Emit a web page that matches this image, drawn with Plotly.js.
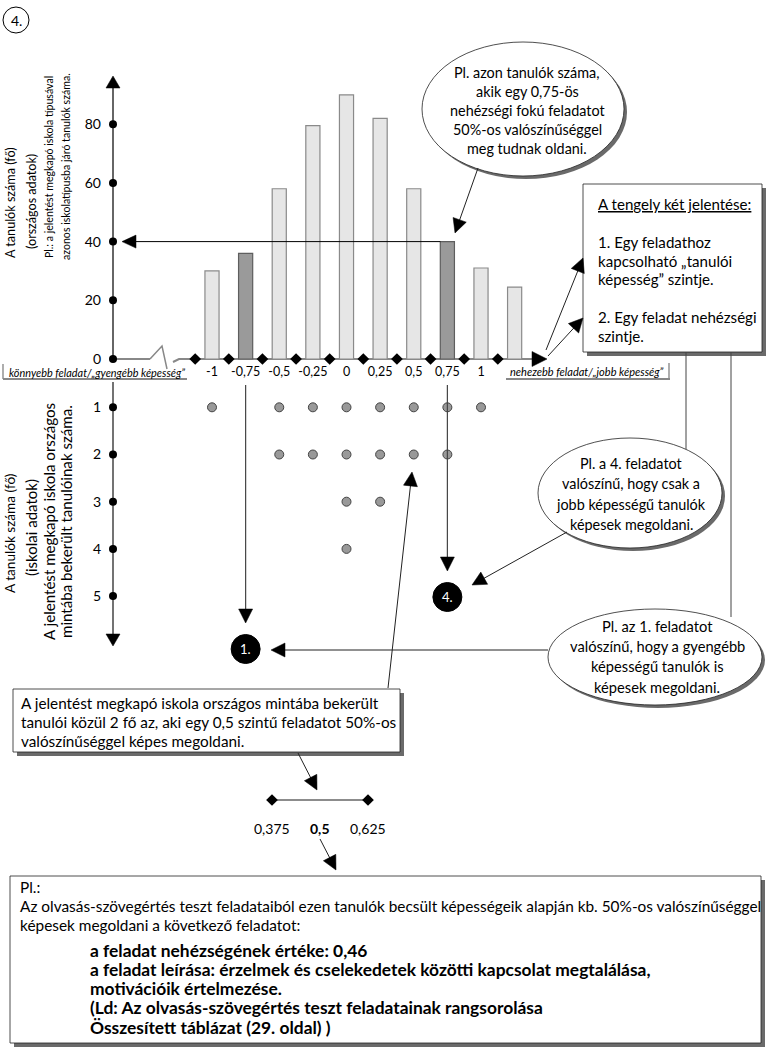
<!DOCTYPE html>
<html><head><meta charset="utf-8">
<script src="https://cdn.plot.ly/plotly-3.0.1.min.js"></script>
<style>html,body{margin:0;padding:0;background:#fff;}#chart{width:767px;height:1053px;}</style>
</head><body><div id="chart"></div>
<script>
// ---------------- data ----------------
const difficulty = [-1, -0.75, -0.5, -0.25, 0, 0.25, 0.5, 0.75, 1, 1.25];
const nationalCounts = [30, 36, 58, 79.5, 90, 82, 58, 40, 31, 24.5];
const highlighted = [false, true, false, false, false, false, false, true, false, false];
const schoolCounts = [1, 0, 2, 2, 4, 3, 2, 2, 1, 0];
const xTickVals = [-1, -0.75, -0.5, -0.25, 0, 0.25, 0.5, 0.75, 1];
const xTickText = ['-1', '-0,75', '-0,5', '-0,25', '0', '0,25', '0,5', '0,75', '1'];
const yTickVals = [0, 20, 40, 60, 80];
const schoolTickVals = [1, 2, 3, 4, 5];
const binEdges = [-1.125, -0.875, -0.625, -0.375, -0.125, 0.125, 0.375, 0.625, 0.875, 1.125];
const bracketVals = [0.375, 0.625];
const bracketLabelVals = [0.375, 0.5, 0.625];
const bracketLabels = ['0,375', '<b>0,5</b>', '0,625'];
const exampleNational = 0.75, exampleNationalCount = 40;
const exampleTasks = [{d: -0.75, label: '1.'}, {d: 0.75, label: '4.'}];

// ---------------- geometry (layout only) ----------------
const W = 767, H = 1053;
const X0PX = 346.5, XPXU = 134.5;
const Y0PX = 359, YPXU = 2.935;
const R1PX = 407.3, RPX = 47.2;
const AXIS_PX = 113;
const xPx = v => X0PX + XPXU * v;
const yPx = v => Y0PX - YPXU * v;
const FONT = 'Lato, "Open Sans", sans-serif';

// font size fitted so that a given text reaches a target width
const cv = document.createElement('canvas').getContext('2d');
function fit(text, targetW, style) {
  cv.font = (style ? style + ' ' : '') + '20px ' + FONT;
  const w = cv.measureText(text.replace(/<[^>]+>/g, '')).width;
  return Math.round(20 * targetW / w * 10) / 10;
}

const shapes = [];
const ann = [];
function line(x0, y0, x1, y1, color, w, layer) {
  shapes.push({type: 'line', xref: 'x3', yref: 'y3', x0, y0, x1, y1, layer: layer || 'above',
    line: {color: color || '#000', width: w || 1}});
}
function path(d, color, w, fill, layer) {
  shapes.push({type: 'path', xref: 'x3', yref: 'y3', path: d, layer: layer || 'above',
    line: {color: color || '#000', width: w === undefined ? 1 : w}, fillcolor: fill || 'rgba(0,0,0,0)'});
}
function tri(tx, ty, fx, fy, len, half) {
  len = len || 13; half = half || 6.5;
  const dx = tx - fx, dy = ty - fy, L = Math.hypot(dx, dy);
  const ux = dx / L, uy = dy / L, bx = tx - ux * len, by = ty - uy * len, px = -uy, py = ux;
  path(`M${tx},${ty} L${bx + px * half},${by + py * half} L${bx - px * half},${by - py * half} Z`, '#000', 0.5, '#000');
}
function arrow(x0, y0, x1, y1, color, w, len, half) {
  len = len || 13;
  const dx = x1 - x0, dy = y1 - y0, L = Math.hypot(dx, dy);
  line(x0, y0, x1 - dx / L * (len - 2), y1 - dy / L * (len - 2), color || '#222', w || 1);
  tri(x1, y1, x0, y0, len, half);
}
function ellipse(cx, cy, rx, ry) {
  shapes.push({type: 'circle', xref: 'x3', yref: 'y3', x0: cx - rx + 3, x1: cx + rx + 3, y0: cy - ry + 3, y1: cy + ry + 3,
    line: {width: 0}, fillcolor: '#6a6a6a'});
  shapes.push({type: 'circle', xref: 'x3', yref: 'y3', x0: cx - rx, x1: cx + rx, y0: cy - ry, y1: cy + ry,
    line: {color: '#222', width: 0.8}, fillcolor: '#fff'});
}
function box(x0, y0, x1, y1) {
  shapes.push({type: 'rect', xref: 'x3', yref: 'y3', x0: x0 + 4, x1: x1 + 4, y0: y0 + 4, y1: y1 + 4,
    line: {width: 0}, fillcolor: '#6a6a6a'});
  shapes.push({type: 'rect', xref: 'x3', yref: 'y3', x0, x1, y0, y1, line: {color: '#222', width: 0.8}, fillcolor: '#fff'});
}
function circ(cx, cy, r, fill, lineColor) {
  shapes.push({type: 'circle', xref: 'x3', yref: 'y3', x0: cx - r, x1: cx + r, y0: cy - r, y1: cy + r,
    line: {color: lineColor || '#000', width: 1}, fillcolor: fill});
}
function txt(x, y, s, o) {
  o = o || {};
  ann.push({xref: 'x3', yref: 'y3', x, y, text: s, showarrow: false,
    xanchor: o.xa || 'center', yanchor: 'middle', textangle: o.angle || 0,
    font: {family: FONT, size: o.size || 13, color: o.color || '#000'}});
}

// ---- page number ----
circ(16, 20, 13, '#fff', '#000');
txt(16, 20, '4.', {size: 14});

// ---- upper axis ----
line(AXIS_PX, yPx(0), AXIS_PX, 86, '#333', 1.5, 'below');
tri(AXIS_PX, 76, AXIS_PX, 100, 12, 7);
line(AXIS_PX, yPx(0), 150, yPx(0), '#888', 2, 'below');
path(`M150,${yPx(0)} L162,346 L167,369`, '#888', 1.5, null, 'below');
path(`M173,362 L179,${yPx(0)} L533,${yPx(0)}`, '#888', 2, null, 'below');
tri(547, yPx(0), 520, yPx(0), 15, 7.5);

// axis end-labels
const easyLbl = '<i>könnyebb feladat/„gyengébb képesség”</i>';
const hardLbl = '<i>nehezebb feladat/„jobb képesség”</i>';
txt(7, 372, easyLbl, {xa: 'left', size: fit(easyLbl, 176, 'italic')});
line(3, 364, 3, 379, '#777', 1.2);
line(3, 379, 187, 379, '#888', 2);
txt(666, 371, hardLbl, {xa: 'right', size: fit(hardLbl, 154, 'italic')});
line(669, 363, 669, 379, '#777', 1.2);
line(506, 379, 670, 379, '#888', 2);

// ---- lower axis ----
line(AXIS_PX, 382, AXIS_PX, 634, '#444', 1.5, 'below');
tri(AXIS_PX, 646, AXIS_PX, 600, 12, 7);

// ---- rotated axis titles ----
const uA = fit('A tanulók száma (fő)', 111), uB = fit('Pl.: a jelentést megkapó iskola típusával', 182);
txt(10, 203, 'A tanulók száma (fő)', {angle: -90, size: uA});
txt(31, 202, '(országos adatok)', {angle: -90, size: uA});
txt(49, 167, 'Pl.: a jelentést megkapó iskola típusával', {angle: -90, size: uB});
txt(66, 167, 'azonos iskolatípusba járó tanulók száma.', {angle: -90, size: uB});
const lA = fit('A tanulók száma (fő)', 120), lB = fit('A jelentést megkapó iskola országos', 238);
txt(10, 533, 'A tanulók száma (fő)', {angle: -90, size: lA});
txt(31, 528, '(iskolai adatok)', {angle: -90, size: fit('(iskolai adatok)', 97)});
txt(49, 522, 'A jelentést megkapó iskola országos', {angle: -90, size: lB});
txt(66, 522, 'mintába bekerült tanulóinak száma.', {angle: -90, size: lB});

// ---- 40 arrow to axis ----
arrow(xPx(exampleNational) - 7, yPx(exampleNationalCount), 122, yPx(exampleNationalCount), '#000', 1, 14, 6.5);

// ---- example task markers ----
exampleTasks.forEach((t, i) => {
  const x = xPx(t.d);
  const tipY = i === 0 ? 623 : 571;
  const cy = i === 0 ? 649 : 597;
  arrow(x, 385, x, tipY, '#444', 1.2, 14, 7);
  circ(x, cy, 14.5, '#000', '#000');
  txt(x, cy, t.label, {size: 13, color: '#fff'});
});

// ---- top ellipse ----
ellipse(523, 109, 101, 67);
const topLines = ['Pl. azon tanulók száma,', 'akik egy 0,75-ös', 'nehézségi fokú feladatot', '50%-os valószínűséggel', 'meg tudnak oldani.'];
const topSize = fit(topLines[0], 146);
topLines.forEach((s, i) => txt(527, 72 + i * 19, s, {size: topSize}));
arrow(478, 168, 455, 233, '#222', 1, 14, 7);

// ---- axis meaning box ----
box(583, 184, 762, 352);
const axSize = fit('2. Egy feladat nehézségi', 159);
txt(596, 204, '<u>A tengely két jelentése:</u>', {xa: 'left', size: axSize});
txt(596, 242, '1. Egy feladathoz', {xa: 'left', size: axSize});
txt(596, 261, 'kapcsolható „tanulói', {xa: 'left', size: axSize});
txt(596, 279, 'képesség” szintje.', {xa: 'left', size: axSize});
txt(596, 317, '2. Egy feladat nehézségi', {xa: 'left', size: axSize});
txt(596, 336, 'szintje.', {xa: 'left', size: axSize});
arrow(546, 350, 583, 258, '#222', 1, 14, 7);
arrow(548, 356, 583, 318, '#222', 1, 14, 7);
line(686, 352, 686, 449, '#444', 1);
line(731, 352, 731, 617, '#444', 1);

// ---- ellipse "Pl. a 4." ----
ellipse(630, 493, 92, 55);
const e4Lines = ['Pl. a 4. feladatot', 'valószínű, hogy csak a', 'jobb képességű tanulók', 'képesek megoldani.'];
const e4Size = fit(e4Lines[2], 148);
e4Lines.forEach((s, i) => txt(631, 463 + i * 20.5, s, {size: e4Size}));
arrow(567, 532, 472, 585, '#222', 1, 14, 7);

// ---- ellipse "Pl. az 1." ----
ellipse(655, 657, 107, 48);
const e1Lines = ['Pl. az 1. feladatot', 'valószínű, hogy a gyengébb', 'képességű tanulók is', 'képesek megoldani.'];
const e1Size = fit(e1Lines[1], 176);
e1Lines.forEach((s, i) => txt(657, 626 + i * 20.2, s, {size: e1Size}));
arrow(548, 650, 271, 650, '#222', 1, 14, 7);

// ---- school box ----
box(13, 689, 400, 752);
const schLines = ['A jelentést megkapó iskola országos mintába bekerült', 'tanulói közül 2 fő az, aki egy 0,5 szintű feladatot 50%-os', 'valószínűséggel képes megoldani.'];
const schSize = fit(schLines[1], 376);
schLines.forEach((s, i) => txt(19, 703 + i * 19, s, {xa: 'left', size: schSize}));
arrow(388, 688, 412, 472, '#222', 1, 14, 7);
arrow(298, 753, 317, 790, '#222', 1, 14, 7);

// ---- bracket ----
line(272, 800, 368, 800, '#666', 1.5, 'below');
bracketLabelVals.forEach((v, i) => ann.push({xref: 'x4', yref: 'y3', x: v, y: 828, text: bracketLabels[i], showarrow: false,
  font: {family: FONT, size: 14, color: '#000'}}));
arrow(320, 839, 336, 870, '#222', 1, 14, 7);

// ---- bottom box ----
box(10, 876, 761, 1043);
const bLine = 'Az olvasás-szövegértés teszt feladataiból ezen tanulók becsült képességeik alapján kb. 50%-os valószínűséggel';
const bSize = fit(bLine, 740);
txt(18, 887, 'Pl.:', {xa: 'left', size: bSize});
txt(18, 906, bLine, {xa: 'left', size: bSize});
txt(18, 925, 'képesek megoldani a következő feladatot:', {xa: 'left', size: bSize});
const boldLines = ['a feladat nehézségének értéke: 0,46',
 'a feladat leírása: érzelmek és cselekedetek közötti kapcsolat megtalálása,',
 'motivációik értelmezése.',
 '(Ld: Az olvasás-szövegértés teszt feladatainak rangsorolása',
 'Összesített táblázat (29. oldal) )'];
const boldSize = fit(boldLines[1], 560, 'bold');
boldLines.forEach((s, i) => txt(88, 950 + i * 19.3, '<b>' + s + '</b>', {xa: 'left', size: boldSize}));

// ---------------- traces ----------------
const dotX = [], dotY = [];
difficulty.forEach((d, i) => { for (let k = 1; k <= schoolCounts[i]; k++) { dotX.push(d); dotY.push(k); } });

const traces = [
  {type: 'bar', x: difficulty, y: nationalCounts, width: 0.105, xaxis: 'x', yaxis: 'y', hoverinfo: 'skip',
   marker: {color: highlighted.map(h => h ? '#9a9a9a' : '#e6e6e6'),
            line: {color: highlighted.map(h => h ? '#5e5e5e' : '#8a8a8a'), width: 1.2}}},
  {type: 'scatter', mode: 'markers', x: binEdges, y: binEdges.map(() => 0), xaxis: 'x', yaxis: 'y', cliponaxis: false,
   marker: {symbol: 'diamond', size: 9, color: '#000'}, hoverinfo: 'skip'},
  {type: 'scatter', mode: 'markers', x: yTickVals.map(() => AXIS_PX), y: yTickVals, xaxis: 'x3', yaxis: 'y', cliponaxis: false,
   marker: {size: 8, color: '#000'}, hoverinfo: 'skip'},
  {type: 'scatter', mode: 'markers', x: dotX, y: dotY, xaxis: 'x', yaxis: 'y2', cliponaxis: false,
   marker: {size: 9, color: '#999', line: {color: '#444', width: 1}}, hoverinfo: 'skip'},
  {type: 'scatter', mode: 'markers', x: schoolTickVals.map(() => AXIS_PX), y: schoolTickVals, xaxis: 'x3', yaxis: 'y2', cliponaxis: false,
   marker: {size: 8, color: '#000'}, hoverinfo: 'skip'},
  {type: 'scatter', mode: 'markers', x: bracketVals, y: bracketVals.map(() => 800), xaxis: 'x4', yaxis: 'y3', cliponaxis: false,
   marker: {symbol: 'diamond', size: 9, color: '#000'}, hoverinfo: 'skip'}
];

const layout = {
  width: W, height: H, margin: {l: 0, r: 0, t: 0, b: 0}, showlegend: false,
  paper_bgcolor: '#fff', plot_bgcolor: 'rgba(0,0,0,0)',
  font: {family: FONT, color: '#000'},
  xaxis: {domain: [0, 1], range: [(0 - X0PX) / XPXU, (W - X0PX) / XPXU], anchor: 'free', position: 1 - Y0PX / H,
          tickmode: 'array', tickvals: xTickVals, ticktext: xTickText, ticks: '', showgrid: false, zeroline: false,
          showline: false, ticklabelstandoff: 3, tickfont: {family: FONT, size: 12.5, color: '#000'}, fixedrange: true},
  yaxis: {domain: [0, 1], range: [(Y0PX - H) / YPXU, Y0PX / YPXU], anchor: 'free', position: AXIS_PX / W,
          tickmode: 'array', tickvals: yTickVals, ticks: '', showgrid: false, zeroline: false, showline: false,
          ticklabelstandoff: 12, tickfont: {family: FONT, size: 14, color: '#000'}, fixedrange: true},
  yaxis2: {domain: [0, 1], overlaying: 'y', range: [1 + (H - R1PX) / RPX, 1 + (0 - R1PX) / RPX], anchor: 'free', position: AXIS_PX / W,
          tickmode: 'array', tickvals: schoolTickVals, ticks: '', showgrid: false, zeroline: false, showline: false,
          ticklabelstandoff: 12, tickfont: {family: FONT, size: 14, color: '#000'}, fixedrange: true},
  xaxis3: {domain: [0, 1], overlaying: 'x', range: [0, W], visible: false, fixedrange: true},
  yaxis3: {domain: [0, 1], overlaying: 'y', range: [H, 0], visible: false, fixedrange: true},
  xaxis4: {domain: [0, 1], overlaying: 'x', range: [0.5 - 320 / 384, 0.5 + (W - 320) / 384], visible: false, fixedrange: true},
  shapes: shapes, annotations: ann
};
Plotly.newPlot('chart', traces, layout, {staticPlot: true, displayModeBar: false});
</script></body></html>
